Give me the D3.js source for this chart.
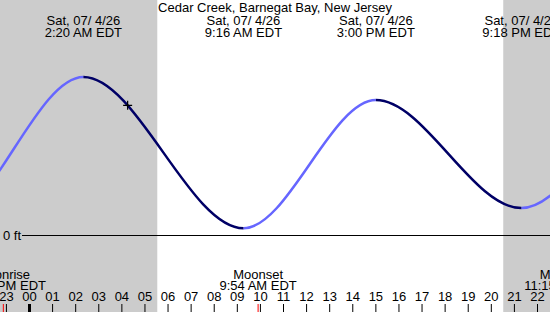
<!DOCTYPE html>
<html><head><meta charset="utf-8">
<script src="https://cdn.jsdelivr.net/npm/d3@7"></script>
<style>
html,body{margin:0;padding:0;background:#fff;}
svg{display:block;font-family:"Liberation Sans",Arial,sans-serif;font-size:13px;}
</style></head><body>
<svg id="c" width="550" height="312"></svg>
<script>
// ---- data (hours relative to midnight of 07/04/26) ----
const title = "Cedar Creek, Barnegat Bay, New Jersey";
const tideTimes  = [-10.0, -3.7, 2 + 20/60, 9 + 16/60, 15 + 0/60, 21 + 18/60, 27.5, 33.8];
const tideHeights = [1.90, 0.20, 2.20, 0.10, 1.88, 0.38, 2.0, 0.2];
const tideDates = ["", "", "Sat, 07/ 4/26", "Sat, 07/ 4/26", "Sat, 07/ 4/26", "Sat, 07/ 4/26", "", ""];
const tideLabels = ["", "", "2:20 AM EDT", "9:16 AM EDT", "3:00 PM EDT", "9:18 PM EDT", "", ""];
const sunrise = 5 + 32/60, sunset = 20 + 31/60;
const moonTimes = [-(1 + 8/60), 9 + 54/60, 23 + 15/60];
const moonNames = ["Moonrise", "Moonset", "Moonrise"];
const moonLabels = ["10:52 PM EDT", "9:54 AM EDT", "11:15 PM EDT"];
const hourTicks = d3.range(-1, 23);
const hourLabels = ["23","00","01","02","03","04","05","06","07","08","09","10","11","12","13","14","15","16","17","18","19","20","21","22"];
const nowTime = 4.25;
const zeroLabel = "0 ft";

const W = 550, H = 312;
const svg = d3.select("#c");
const x = d3.scaleLinear().domain([0, 22]).range([29.5, 537.5]);
const y = d3.scaleLinear().domain([0, 2.2]).range([235.5, 77]);

// night shading
svg.append("rect").attr("x", 0).attr("y", 0).attr("width", x(sunrise)).attr("height", H).attr("fill", "#cccccc");
svg.append("rect").attr("x", x(sunset)).attr("y", 0).attr("width", W - x(sunset)).attr("height", H).attr("fill", "#cccccc");

// zero line
svg.append("line").attr("x1", 22).attr("x2", W).attr("y1", y(0)).attr("y2", y(0))
  .attr("stroke", "#000").attr("stroke-width", 1).attr("shape-rendering", "crispEdges");
svg.append("text").attr("x", 3).attr("y", y(0) + 4.5).text(zeroLabel);

// tide curve
const pts = tideTimes.map((t, i) => [t, tideHeights[i]]);
const line = d3.line().x(d => x(d[0])).y(d => y(d[1])).curve(d3.curveMonotoneX);
const defs = svg.append("defs");
const dark = defs.append("clipPath").attr("id", "fall");
const lightC = defs.append("clipPath").attr("id", "rise");
for (let i = 0; i < pts.length - 1; i++) {
  const a = x(pts[i][0]), b = x(pts[i + 1][0]);
  const cp = pts[i + 1][1] < pts[i][1] ? dark : lightC;
  cp.append("rect").attr("x", a).attr("y", 0).attr("width", b - a).attr("height", H);
}
svg.append("path").attr("d", line(pts)).attr("fill", "none").attr("stroke", "#6666ff")
  .attr("stroke-width", 2.5).attr("clip-path", "url(#rise)");
const darkPath = svg.append("path").attr("d", line(pts)).attr("fill", "none").attr("stroke", "#000066")
  .attr("stroke-width", 2.5).attr("clip-path", "url(#fall)");

// current-time marker located on the drawn path
const node = darkPath.node();
const total = node.getTotalLength();
const tx = x(nowTime);
let lo = 0, hi = total;
for (let k = 0; k < 40; k++) {
  const mid = (lo + hi) / 2;
  if (node.getPointAtLength(mid).x < tx) lo = mid; else hi = mid;
}
const mp = node.getPointAtLength(lo);
svg.append("path").attr("d", `M${mp.x - 4.5},${mp.y}H${mp.x + 4.5}M${mp.x},${mp.y - 4.5}V${mp.y + 4.5}`)
  .attr("stroke", "#000").attr("stroke-width", 1.2);

// title and tide labels
svg.append("text").attr("x", W / 2).attr("y", 12).attr("text-anchor", "middle").text(title);
tideTimes.forEach((t, i) => {
  if (!tideLabels[i]) return;
  svg.append("text").attr("x", x(t)).attr("y", 24.5).attr("text-anchor", "middle").text(tideDates[i]);
  svg.append("text").attr("x", x(t)).attr("y", 36.5).attr("text-anchor", "middle").text(tideLabels[i]);
});

// moon labels
moonTimes.forEach((t, i) => {
  svg.append("text").attr("x", x(t)).attr("y", 278.5).attr("text-anchor", "middle").text(moonNames[i]);
  svg.append("text").attr("x", x(t)).attr("y", 290).attr("text-anchor", "middle").text(moonLabels[i]);
});

// hour ticks
hourTicks.forEach((h, i) => {
  svg.append("text").attr("x", x(h)).attr("y", 301).attr("text-anchor", "middle").text(hourLabels[i]);
  svg.append("line").attr("x1", x(h)).attr("x2", x(h)).attr("y1", 304).attr("y2", 312)
    .attr("stroke", "#000").attr("stroke-width", h === 0 ? 3 : 1);
});
moonTimes.forEach(t => {
  svg.append("line").attr("x1", x(t)).attr("x2", x(t)).attr("y1", 304).attr("y2", 312)
    .attr("stroke", "#ff0000").attr("stroke-width", 1);
});
</script>
</body></html>
